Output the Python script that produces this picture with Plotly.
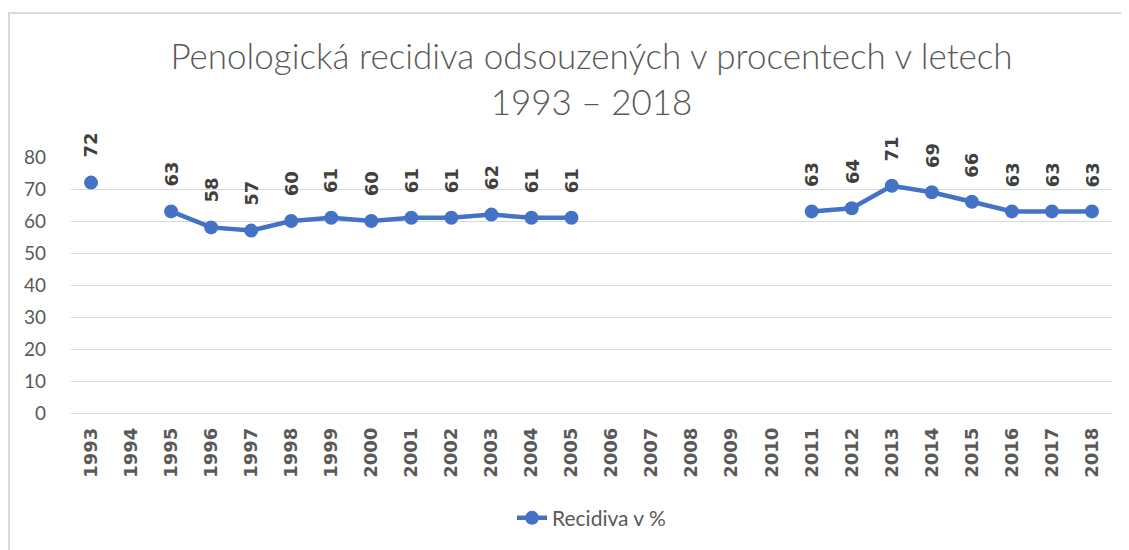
import plotly.graph_objects as go

years = [str(y) for y in range(1993, 2019)]
values = [72, None, 63, 58, 57, 60, 61, 60, 61, 61, 62, 61, 61,
          None, None, None, None, None,
          63, 64, 71, 69, 66, 63, 63, 63]
series_name = "Recidiva v %"
title_text = "Penologická recidiva odsouzených v procentech v letech<br>1993 – 2018"
y_ticks = [0, 10, 20, 30, 40, 50, 60, 70, 80]

# page has an 8px body margin; work in figure coordinates
OFF = 8
W, H = 1129 - OFF, 550 - OFF
L, R, T, B = 71 - OFF, 17, 157 - OFF, 135
pw, ph = W - L - R, H - T - B

blue = "#4472C4"
grey = "#595959"
FONT = "Lato"
BOLD_FONT = "DejaVu Sans"

fig = go.Figure()
fig.add_trace(go.Scatter(
    x=years, y=values, mode="lines+markers", name=series_name,
    line=dict(color=blue, width=4.5),
    marker=dict(color=blue, size=14),
    connectgaps=False,
))

for i, v in enumerate(values):
    if v is None:
        continue
    fig.add_annotation(
        x=i, y=v, xref="x", yref="y", text=f"<b>{v}</b>", showarrow=False,
        textangle=-90, yanchor="middle", xanchor="center", yshift=37,
        font=dict(family=BOLD_FONT, size=18, color="#404040"),
    )

def px2paper_x(px):
    return (px - OFF - L) / pw

def px2paper_y(py):
    return (H - B - (py - OFF)) / ph

fig.add_shape(type="rect", xref="paper", yref="paper",
              x0=px2paper_x(9), x1=px2paper_x(1140),
              y0=px2paper_y(560), y1=px2paper_y(12),
              line=dict(color="#D9D9D9", width=2), layer="below")

fig.update_layout(
    width=W, height=H,
    margin=dict(l=L, r=R, t=T, b=B),
    paper_bgcolor="white", plot_bgcolor="white",
    font=dict(family=FONT, color=grey),
    title=dict(text=title_text, x=0.5, xref="paper", xanchor="center",
               y=1 - 61 / H, yref="container", yanchor="middle",
               font=dict(family=FONT, size=35, color=grey, weight=300)),
    xaxis=dict(type="category", range=[-0.5, 25.5], showgrid=False,
               showline=False, ticks="", tickangle=-90, ticklabelstandoff=10,
               tickfont=dict(family=BOLD_FONT, size=18, color=grey, weight="bold")),
    yaxis=dict(range=[0, 80], tickvals=y_ticks, showgrid=True,
               gridcolor="#D9D9D9", gridwidth=1, zeroline=True,
               zerolinecolor="#D9D9D9", zerolinewidth=1, showline=False,
               ticks="", ticklabelstandoff=24,
               tickfont=dict(family=FONT, size=19, color=grey)),
    showlegend=True,
    legend=dict(orientation="h", x=0.5, xanchor="center",
                y=px2paper_y(521), yanchor="middle",
                font=dict(family=FONT, size=21, color=grey)),
)

fig.write_html("out.html")
